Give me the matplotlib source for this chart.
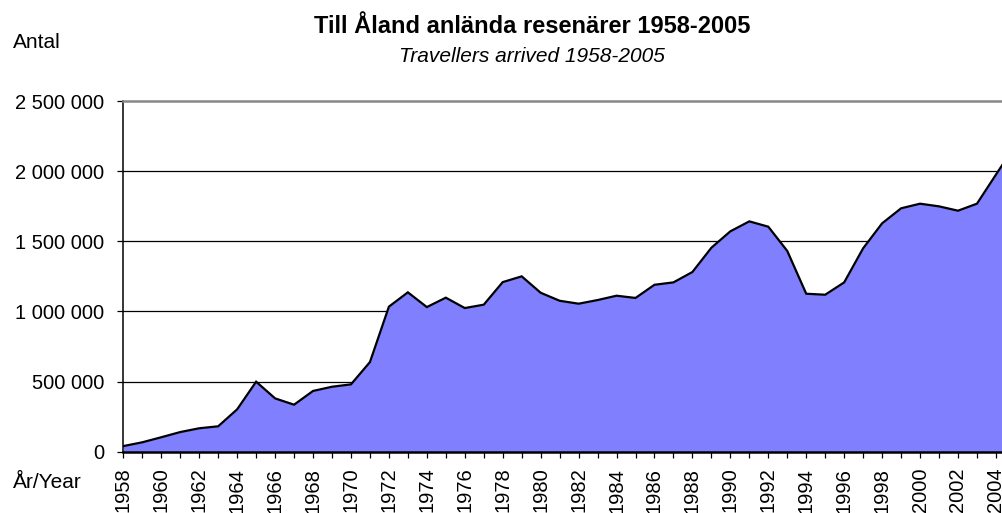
import numpy as np
import matplotlib
matplotlib.use("Agg")
import matplotlib.pyplot as plt
from matplotlib.ticker import FuncFormatter, MultipleLocator

plt.rcParams["font.family"] = ["Liberation Sans", "DejaVu Sans"]

years = list(range(1958, 2006))
# arrivals per year
travellers = [
    40000, 67000, 103000, 140000, 167000, 181000, 302000, 499000, 380000, 335000,
    433000, 463000, 480000, 639000, 1034000, 1136000, 1031000, 1098000, 1024000, 1048000,
    1209000, 1250000, 1133000, 1076000, 1055000, 1081000, 1112000, 1096000, 1190000, 1207000,
    1281000, 1454000, 1571000, 1642000, 1604000, 1431000, 1126000, 1119000, 1207000, 1450000,
    1628000, 1735000, 1768000, 1749000, 1718000, 1768000, 1975000, 2180000,
]
tick_years = list(range(1958, 2005))
label_years = list(range(1958, 2005, 2))

FILL = "#8080FF"

fig = plt.figure(figsize=(10.02, 5.13), dpi=100)
ax = fig.add_axes([0.1231, 0.1195, 0.8769, 0.6836])

ax.fill_between(years, travellers, 0, color=FILL, lw=0, zorder=2)
ax.plot(years, travellers, color="black", lw=1.6, zorder=3, solid_joinstyle="miter")

for v in (500000, 1000000, 1500000, 2000000):
    ax.axhline(v, color="black", lw=0.9, zorder=1)

ax.yaxis.set_major_locator(MultipleLocator(500000))
ax.yaxis.set_major_formatter(FuncFormatter(lambda v, p: f"{v:,.0f}".replace(",", " ")))
ax.tick_params(axis="y", direction="out", length=4.5, width=0.9, pad=9, labelsize=14.5)

ax.set_xticks(tick_years)
ax.set_xticklabels([str(y) if y in label_years else "" for y in tick_years], rotation=90)
ax.tick_params(axis="x", direction="out", length=4, width=0.9, pad=7.5, labelsize=14.5)
for lab in ax.get_xticklabels():
    lab.set_va("top")

# the chart is cut off on the right, just past the 2004 tick
ax.set_xlim(1958, 2004.32)
ax.set_ylim(0, 2500000)

ax.spines["right"].set_visible(False)
ax.spines["top"].set_color("#888888")
ax.spines["top"].set_linewidth(1.8)
ax.spines["left"].set_linewidth(1.1)
ax.spines["bottom"].set_linewidth(1.8)

fig.text(0.531, 0.935, "Till Åland anlända resenärer 1958-2005", ha="center", va="baseline",
         fontsize=17, fontweight="bold")
fig.text(0.531, 0.880, "Travellers arrived 1958-2005", ha="center", va="baseline",
         fontsize=15, style="italic")
fig.text(0.013, 0.907, "Antal", ha="left", va="baseline", fontsize=15)
fig.text(0.0127, 0.0493, "År/Year", ha="left", va="baseline", fontsize=15)

fig.savefig("out.png", dpi=100)
